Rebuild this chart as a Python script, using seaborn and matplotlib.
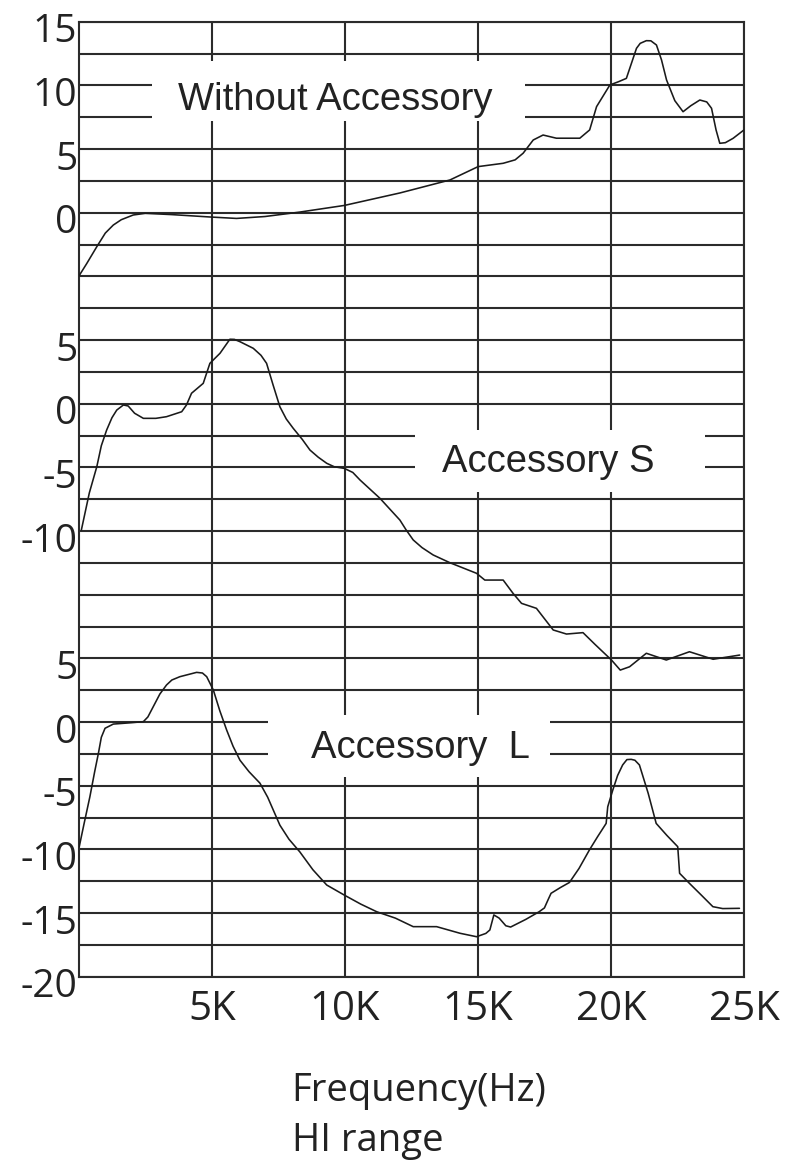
import numpy as np
import pandas as pd
import matplotlib
matplotlib.use("Agg")
import matplotlib.pyplot as plt
from matplotlib.ticker import MultipleLocator
from matplotlib.patches import Rectangle
from matplotlib.transforms import ScaledTranslation
import seaborn as sns

# ---------------- data (frequency in kHz, level in dB) ----------------
freq_none = [0.0, 0.3, 0.68, 1.0, 1.3, 1.6, 2.05, 2.5, 3.5, 4.96, 5.93, 7.0, 8.31,
             9.98, 12.07, 13.95, 15.01, 15.95, 16.4, 16.7, 17.08, 17.45, 17.95,
             18.83, 19.2, 19.46, 19.96, 20.3, 20.58, 20.96, 21.1, 21.33, 21.5,
             21.71, 21.9, 22.09, 22.4, 22.71, 23.0, 23.34, 23.6, 23.78, 23.95,
             24.09, 24.3, 24.59, 25.0]
level_none = [-5.0, -4.0, -2.67, -1.6, -0.97, -0.55, -0.18, -0.05, -0.15, -0.34,
              -0.45, -0.3, 0.05, 0.57, 1.55, 2.57, 3.62, 3.88, 4.15, 4.67, 5.71,
              6.1, 5.85, 5.85, 6.5, 8.33, 10.03, 10.3, 10.55, 12.91, 13.3, 13.51,
              13.5, 13.17, 12.0, 10.42, 8.8, 7.93, 8.4, 8.85, 8.7, 8.2, 6.5,
              5.45, 5.5, 5.84, 6.5]

freq_s = [0.1, 0.4, 0.68, 0.85, 1.05, 1.25, 1.43, 1.68, 1.86, 2.1, 2.43, 2.9, 3.3,
          3.87, 4.05, 4.24, 4.68, 4.93, 5.31, 5.68, 5.85, 6.06, 6.56, 6.85, 7.06,
          7.3, 7.56, 7.8, 8.06, 8.4, 8.69, 9.0, 9.32, 9.6, 9.98, 10.3, 10.57,
          11.32, 12.07, 12.3, 12.57, 12.9, 13.32, 13.95, 14.95, 15.26, 15.95,
          16.32, 16.64, 17.2, 17.83, 18.33, 18.95, 19.4, 20.02, 20.35, 20.7,
          21.33, 22.08, 22.95, 23.84, 24.84]
level_s = [-9.92, -7.0, -4.95, -3.3, -2.07, -1.1, -0.5, -0.1, -0.18, -0.75, -1.15,
           -1.15, -1.02, -0.63, -0.1, 0.82, 1.6, 3.17, 3.96, 5.06, 5.05, 4.87,
           4.35, 3.8, 3.17, 1.5, -0.24, -1.2, -1.93, -2.8, -3.64, -4.2, -4.68,
           -4.95, -5.08, -5.4, -5.99, -7.43, -9.14, -9.9, -10.7, -11.3, -11.88,
           -12.49, -13.32, -13.85, -13.85, -14.89, -15.68, -16.07, -17.77, -18.09,
           -17.98, -18.9, -20.13, -20.92, -20.66, -19.6, -20.13, -19.48, -20.07,
           -19.74]

freq_l = [0.02, 0.2, 0.42, 0.6, 0.74, 0.85, 0.99, 1.3, 2.0, 2.43, 2.6, 2.8, 3.05,
          3.3, 3.5, 3.8, 4.43, 4.65, 4.81, 5.06, 5.3, 5.56, 5.8, 6.06, 6.4, 6.81,
          7.1, 7.56, 7.9, 8.31, 8.8, 9.32, 9.98, 10.6, 11.2, 11.9, 12.57, 13.45,
          14.33, 14.95, 15.3, 15.45, 15.6, 15.8, 16.05, 16.23, 16.8, 17.3, 17.5,
          17.65, 17.75, 18.1, 18.44, 18.8, 19.19, 19.5, 19.82, 19.88, 20.07,
          20.25, 20.44, 20.6, 20.76, 20.9, 21.07, 21.4, 21.7, 22.1, 22.51, 22.58,
          22.95, 23.4, 23.83, 24.2, 24.83]
level_l = [-9.79, -8.0, -5.87, -3.9, -2.46, -1.2, -0.49, -0.16, -0.05, 0.03, 0.4,
           1.2, 2.2, 2.91, 3.3, 3.56, 3.9, 3.85, 3.56, 2.51, 0.9, -0.63, -1.9,
           -3.0, -3.9, -4.8, -5.9, -8.1, -9.2, -10.2, -11.6, -12.8, -13.59, -14.3,
           -14.9, -15.4, -16.07, -16.07, -16.59, -16.86, -16.6, -16.33, -15.15,
           -15.4, -16.0, -16.1, -15.5, -14.9, -14.6, -13.9, -13.45, -13.0, -12.6,
           -11.5, -10.05, -9.0, -7.96, -6.65, -5.34, -4.2, -3.37, -2.95, -2.93,
           -3.0, -3.37, -5.6, -7.96, -8.9, -9.79, -11.88, -12.67, -13.6, -14.5,
           -14.65, -14.63]

panel_names = ["Without Accessory", "Accessory S", "Accessory  L"]
panel_offsets = [40, 25, 0]
panel_ticks = [[15, 10, 5, 0], [5, 0, -5, -10], [5, 0, -5, -10, -15, -20]]
x_ticks = [5, 10, 15, 20, 25]
x_tick_labels = ["5K", "10K", "15K", "20K", "25K"]
x_title = "Frequency(Hz)\nHI range"

# ---------------- figure ----------------
sns.set_theme(style="white")
plt.rcParams["font.family"] = ["Open Sans", "DejaVu Sans"]

W, H = 803, 1163
fig = plt.figure(figsize=(W / 100, H / 100), dpi=100)
ax_l, ax_r, ax_t, ax_b = 78.7, 744.0, 21.7, 976.7
ax = fig.add_axes([ax_l / W, 1 - ax_b / H, (ax_r - ax_l) / W, (ax_b - ax_t) / H])

ink = "#2b2b2b"
series = [(freq_none, level_none), (freq_s, level_s), (freq_l, level_l)]
for (fx, ly), off, name in zip(series, panel_offsets, panel_names):
    df = pd.DataFrame({"freq": fx, "level": np.asarray(ly) + off})
    sns.lineplot(data=df, x="freq", y="level", ax=ax, color="#1a1a1a",
                 linewidth=1.15, estimator=None, sort=False, zorder=4)

ax.set_xlim(0, 25)
ax.set_ylim(-20, 55)

# ticks
ypos, ylab = [], []
for ticks, off in zip(panel_ticks, panel_offsets):
    for t in ticks:
        ypos.append(t + off)
        ylab.append(str(t))
ax.set_yticks(ypos)
ax.set_yticklabels(ylab)
ax.yaxis.set_minor_locator(MultipleLocator(2.5))
ax.set_xticks(x_ticks)
ax.set_xticklabels(x_tick_labels)
ax.tick_params(axis="y", which="both", length=0, pad=1, labelsize=28, labelcolor="#222222")
ax.tick_params(axis="x", which="both", length=0, pad=9, labelsize=29, labelcolor="#222222")
shift = ScaledTranslation(0, -6 / 100, fig.dpi_scale_trans)
for lab in ax.get_yticklabels():
    lab.set_transform(lab.get_transform() + shift)

# grid
ax.set_axisbelow(True)
ax.grid(True, axis="y", which="both", color=ink, linewidth=1.5)
ax.grid(True, axis="x", which="major", color=ink, linewidth=1.5)
for s in ax.spines.values():
    s.set_color(ink)
    s.set_linewidth(1.5)

# label boxes (break the grid) and texts
boxes = [((2.75, 47.2), 14.02, 4.71), ((12.63, 18.06), 10.9, 4.87), ((7.11, -4.32), 10.59, 4.87)]
text_pos = [(9.63, 48.85), (17.63, 20.42), (12.86, -2.04)]
for (xy, w, h), (tx, ty), name in zip(boxes, text_pos, panel_names):
    ax.add_patch(Rectangle(xy, w, h, facecolor="white", edgecolor="none", zorder=2))
    ax.text(tx, ty, name, ha="center", va="center", fontsize=27.5,
            family=["Liberation Sans", "DejaVu Sans"], color="#222222", zorder=5)

ax.set_ylabel("")
ax.set_xlabel(x_title, fontsize=27.5, ha="left", va="top", multialignment="left",
              linespacing=1.42, color="#222222")
ax.xaxis.set_label_coords((291.7 - ax_l) / (ax_r - ax_l), -(1072 - ax_b) / (ax_b - ax_t))

fig.savefig("out.png", dpi=100)
